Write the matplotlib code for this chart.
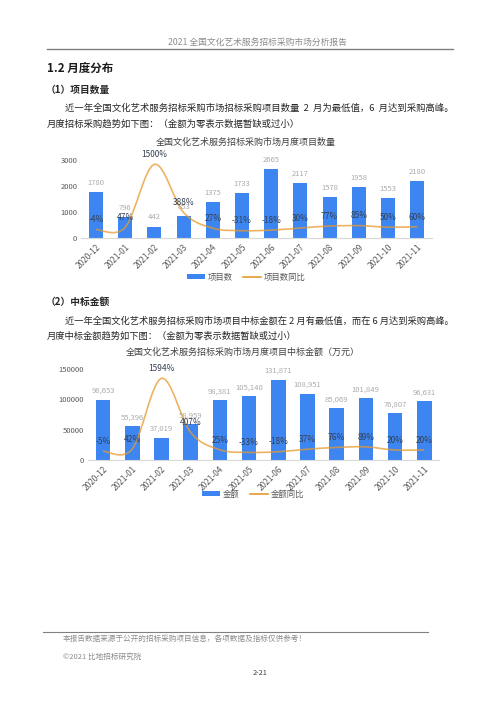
import matplotlib
matplotlib.use('Agg')
import matplotlib.pyplot as plt
from matplotlib.path import Path
from matplotlib.patches import PathPatch, Patch
from matplotlib.lines import Line2D

plt.rcParams['font.family'] = ['Noto Sans CJK SC', 'DejaVu Sans']

# data
months = ['2020-12', '2021-01', '2021-02', '2021-03', '2021-04', '2021-05',
          '2021-06', '2021-07', '2021-08', '2021-09', '2021-10', '2021-11']
count = [1780, 796, 442, 853, 1375, 1733, 2665, 2117, 1578, 1958, 1553, 2180]
count_yoy = [-4, 47, 1500, 388, 27, -31, -18, 30, 77, 85, 50, 60]
amount = [98653, 55396, 37019, 58959, 98381, 105140, 131871, 108951, 85069, 101849, 76807, 96631]
amount_yoy = [-5, 42, 1594, 407, 25, -33, -18, 37, 76, 89, 20, 20]

BLUE = '#3D85F1'
ORANGE = '#E69A2E'
GREY_TXT = '#595959'

W, H = 500, 706
fig = plt.figure(figsize=(W / 100, H / 100), dpi=100)


def fx(px):
    return px / W


def fy(py):
    return 1 - py / H


def smooth_path(xs, ys):
    # excel-like smoothed line: bezier segments with catmull-rom tangents
    pts = list(zip(xs, ys))
    verts = [pts[0]]
    codes = [Path.MOVETO]
    n = len(pts)
    for i in range(n - 1):
        p0 = pts[i - 1] if i > 0 else pts[i]
        p1 = pts[i]
        p2 = pts[i + 1]
        p3 = pts[i + 2] if i + 2 < n else pts[i + 1]
        c1 = (p1[0] + (p2[0] - p0[0]) / 6, p1[1] + (p2[1] - p0[1]) / 6)
        c2 = (p2[0] - (p3[0] - p1[0]) / 6, p2[1] - (p3[1] - p1[1]) / 6)
        verts += [c1, c2, p2]
        codes += [Path.CURVE4] * 3
    return Path(verts, codes)


def combo_chart(rect, vals, pct, ymax, yticks, pct_lim, bar_w, fmt,
                legend_names, legend_xy):
    ax = fig.add_axes(rect)
    x = list(range(len(months)))
    ax.bar(x, vals, width=bar_w, color=BLUE, zorder=2)
    ax.set_xlim(-0.5, len(months) - 0.5)
    ax.set_ylim(0, ymax)
    ax.set_yticks(yticks)
    ax.set_xticks(x)
    ax.set_xticklabels(months, rotation=45, ha='right', va='top',
                       rotation_mode='anchor', fontsize=6, color=GREY_TXT)
    ax.tick_params(axis='y', labelsize=5.5, labelcolor=GREY_TXT, length=0, pad=3)
    ax.tick_params(axis='x', length=0, pad=3)
    for s in ['top', 'right', 'left']:
        ax.spines[s].set_visible(False)
    ax.spines['bottom'].set_color('#D9D9D9')
    ax.spines['bottom'].set_linewidth(0.8)
    for xi, v in zip(x, vals):
        ax.annotate(fmt(v), (xi, v), xytext=(0, 6.5), textcoords='offset points',
                    ha='center', va='center', fontsize=5.5, color='#ABABAB', zorder=5)

    ax2 = ax.twinx()
    ax2.set_ylim(*pct_lim)
    ax2.axis('off')
    patch = PathPatch(smooth_path(x, pct), facecolor='none', edgecolor=ORANGE,
                      lw=1.2, alpha=0.75, zorder=3)
    ax2.add_patch(patch)
    for xi, p in zip(x, pct):
        ax2.annotate('%d%%' % p, (xi, p), xytext=(0, 7), textcoords='offset points',
                     ha='center', va='center', fontsize=6, color='#34404F', zorder=6)

    handles = [Patch(facecolor=BLUE, edgecolor='none'),
               Line2D([0], [0], color=ORANGE, lw=1.2)]
    ax2.legend(handles, legend_names, loc='center', ncol=2, frameon=False,
               fontsize=6, handlelength=2.2, handleheight=0.5, columnspacing=1.2,
               handletextpad=0.3, labelcolor=GREY_TXT,
               bbox_to_anchor=(fx(legend_xy[0]), fy(legend_xy[1])),
               bbox_transform=fig.transFigure)
    return ax


# chart 1: project count
combo_chart([fx(81.4), fy(238), fx(350.4), 78 / H], count, count_yoy, 3000,
            [0, 1000, 2000, 3000], (-200, 1600), 0.48, lambda v: '%d' % v,
            ['项目数', '项目数同比'], (246, 277))

# chart 2: award amount
combo_chart([fx(88.4), fy(460), fx(350.4), 91 / H], amount, amount_yoy, 150000,
            [0, 50000, 100000, 150000], (-200, 1800), 0.5, lambda v: '{:,}'.format(v),
            ['金额', '金额同比'], (253, 494))

# page text
fig.text(fx(257), fy(42), '2021 全国文化艺术服务招标采购市场分析报告', ha='center', va='center',
         fontsize=6.3, color='#8C8C8C')
fig.add_artist(Line2D([fx(47), fx(453)], [fy(49), fy(49)], color='#808080', lw=1.0))
fig.text(fx(47), fy(68), '1.2 月度分布', ha='left', va='center', fontsize=8.3,
         fontweight='bold', color='#1A1A1A')
fig.text(fx(46), fy(90), '（1）项目数量', ha='left', va='center', fontsize=7,
         fontweight='bold', color='#262626')
fig.text(fx(65), fy(108), '近一年全国文化艺术服务招标采购市场招标采购项目数量  2  月为最低值，6  月达到采购高峰。',
         ha='left', va='center', fontsize=6.75, color='#262626')
fig.text(fx(47), fy(124), '月度招标采购趋势如下图：（金额为零表示数据暂缺或过小）',
         ha='left', va='center', fontsize=6.75, color='#262626')
fig.text(fx(246), fy(142), '全国文化艺术服务招标采购市场月度项目数量', ha='center', va='center',
         fontsize=6.5, color='#404040')

fig.text(fx(46), fy(302), '（2）中标金额', ha='left', va='center', fontsize=7,
         fontweight='bold', color='#262626')
fig.text(fx(65), fy(321), '近一年全国文化艺术服务招标采购市场项目中标金额在 2 月有最低值，而在 6 月达到采购高峰。',
         ha='left', va='center', fontsize=6.7, color='#262626')
fig.text(fx(47), fy(336), '月度中标金额趋势如下图：（金额为零表示数据暂缺或过小）',
         ha='left', va='center', fontsize=6.7, color='#262626')
fig.text(fx(243), fy(352), '全国文化艺术服务招标采购市场月度项目中标金额（万元）', ha='center',
         va='center', fontsize=6.5, color='#404040')

# footer
fig.add_artist(Line2D([fx(43), fx(428)], [fy(632), fy(632)], color='#808080', lw=0.8))
fig.text(fx(63), fy(639), '本报告数据来源于公开的招标采购项目信息，各项数据及指标仅供参考！',
         ha='left', va='center', fontsize=5.5, color='#8C8C8C')
fig.text(fx(63), fy(657), '©2021 比地招标研究院', ha='left', va='center', fontsize=5.5,
         color='#8C8C8C')
fig.text(fx(260), fy(673), '2-21', ha='center', va='center', fontsize=5.3, color='#404040')

fig.savefig('out.png', dpi=100)
